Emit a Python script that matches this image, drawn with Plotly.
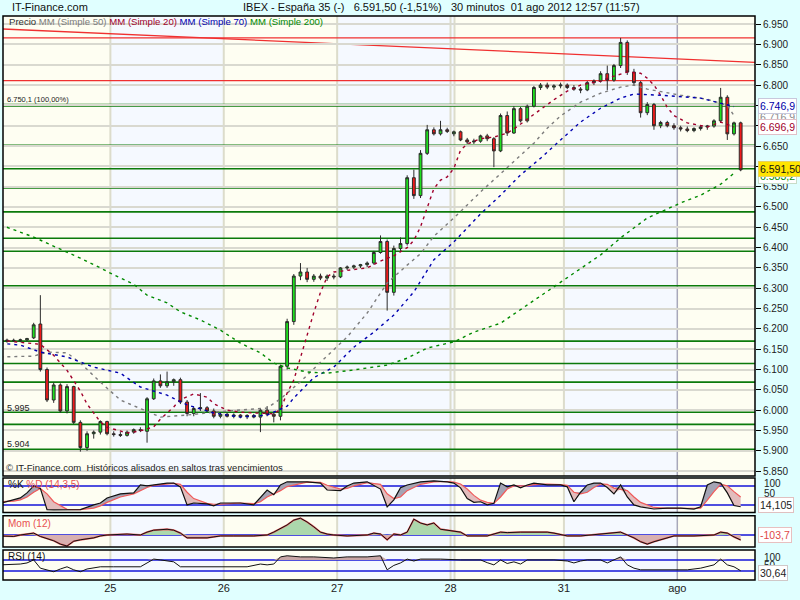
import plotly.graph_objects as go

# ---------------- data ----------------
# 30-minute bars, index 1 = first visible bar of 24 Jul 2012
opens = [6170, 6172, 6171, 6173, 6178, 6212, 6100, 6025, 6062, 5998, 6058, 5970, 5908, 5942, 5946, 5972,
         5942, 5940, 5938, 5946, 5952, 5948, 6028, 6072, 6060, 6070, 6075, 6020, 5992, 6004, 6006, 5998, 5985,
         5990, 5985, 5988, 5984, 5987, 5983, 6000, 5990, 5985, 6108, 6218, 6330, 6340, 6322, 6330, 6325, 6330,
         6328, 6350, 6352, 6355, 6358, 6362, 6388, 6415, 6290, 6398, 6410, 6572, 6528, 6632, 6690, 6680, 6690,
         6680, 6685, 6665, 6660, 6662, 6675, 6668, 6638, 6725, 6682, 6742, 6712, 6748, 6794, 6800, 6795, 6798,
         6800, 6794, 6790, 6788, 6806, 6810, 6828, 6812, 6848, 6905, 6832, 6806, 6732, 6752, 6700, 6708, 6700,
         6695, 6692, 6688, 6693, 6697, 6699, 6712, 6770, 6680, 6707]
highs = [6176, 6176, 6176, 6178, 6215, 6283, 6105, 6068, 6066, 6064, 6060, 5975, 5948, 5950, 5975, 5974,
         5948, 5946, 5950, 5955, 5958, 6032, 6078, 6088, 6095, 6078, 6080, 6025, 6008, 6042, 6010, 6004, 5995,
         5994, 5992, 5990, 5990, 5991, 6004, 6010, 5995, 6112, 6225, 6335, 6362, 6350, 6335, 6336, 6334, 6336,
         6352, 6356, 6358, 6360, 6366, 6392, 6430, 6420, 6405, 6425, 6578, 6592, 6640, 6702, 6696, 6712, 6695,
         6688, 6688, 6670, 6668, 6678, 6680, 6672, 6730, 6735, 6748, 6746, 6752, 6798, 6805, 6806, 6802, 6806,
         6804, 6800, 6795, 6810, 6814, 6834, 6848, 6852, 6916, 6910, 6840, 6810, 6758, 6756, 6712, 6712, 6706,
         6700, 6698, 6696, 6700, 6702, 6716, 6793, 6775, 6710, 6710]
lows = [6166, 6168, 6167, 6169, 6175, 6095, 6020, 6018, 5994, 5992, 5966, 5898, 5900, 5930, 5940, 5938,
        5935, 5934, 5935, 5942, 5946, 5920, 6025, 6055, 6055, 6060, 6015, 5985, 5985, 5998, 5995, 5980, 5980,
        5982, 5980, 5980, 5978, 5980, 5946, 5985, 5970, 5975, 6100, 6210, 6320, 6315, 6316, 6320, 6318, 6322,
        6325, 6345, 6347, 6350, 6352, 6358, 6385, 6245, 6282, 6392, 6405, 6520, 6522, 6628, 6676, 6676, 6682,
        6674, 6662, 6655, 6655, 6658, 6662, 6598, 6635, 6675, 6680, 6708, 6708, 6745, 6788, 6790, 6788, 6792,
        6790, 6786, 6780, 6785, 6800, 6806, 6788, 6808, 6842, 6825, 6800, 6720, 6726, 6690, 6694, 6696, 6690,
        6686, 6684, 6684, 6688, 6690, 6695, 6708, 6665, 6676, 6588]
closes = [6172, 6171, 6173, 6176, 6210, 6100, 6025, 6062, 5998, 6058, 5970, 5908, 5942, 5946, 5972, 5942,
          5940, 5938, 5946, 5952, 5950, 6028, 6072, 6060, 6070, 6075, 6020, 5992, 6004, 6006, 5998, 5985, 5990,
          5985, 5988, 5984, 5987, 5983, 6000, 5990, 5985, 6108, 6218, 6330, 6340, 6322, 6330, 6325, 6330, 6328,
          6350, 6352, 6355, 6358, 6362, 6388, 6415, 6290, 6398, 6410, 6572, 6528, 6632, 6690, 6680, 6690, 6686,
          6685, 6665, 6660, 6662, 6675, 6668, 6638, 6725, 6682, 6742, 6712, 6748, 6794, 6800, 6795, 6798, 6800,
          6794, 6790, 6788, 6806, 6810, 6828, 6812, 6848, 6905, 6832, 6806, 6732, 6752, 6700, 6708, 6700, 6695,
          6692, 6688, 6693, 6697, 6699, 6712, 6770, 6680, 6707, 6591.5]
bar_idx = list(range(1, len(closes) + 1))

# moving averages, read at sampled bar indices
ma20_x = [0, 6, 8, 10, 12, 13, 15, 16, 19, 21, 23, 24, 26, 27, 29, 31, 32, 34, 36, 39, 41, 42, 43, 44, 45, 46,
          47, 48, 49, 50, 53, 55, 57, 59, 61, 62, 63, 64, 65, 66, 67, 68, 69, 70, 72, 74, 76, 77, 79, 81, 83, 85,
          87, 90, 92, 94, 96, 97, 98, 99, 100, 101, 103, 106, 108, 110]
ma20_v = [6172, 6162, 6135, 6098, 6047, 6015, 5971, 5958, 5944, 5949, 5959, 5978, 6008, 6026, 6040, 6032, 6016,
          6000, 5995, 5993, 5991, 6002, 6042, 6074, 6130, 6185, 6240, 6290, 6328, 6340, 6345, 6350, 6367, 6380,
          6400, 6418, 6451, 6500, 6545, 6566, 6574, 6595, 6640, 6655, 6668, 6672, 6682, 6692, 6716, 6742, 6764,
          6785, 6800, 6810, 6822, 6832, 6829, 6817, 6800, 6775, 6745, 6725, 6707, 6697, 6709, 6697]
ma50_x = [0, 5, 7, 10, 12, 15, 18, 21, 24, 28, 32, 38, 40, 42, 45, 48, 52, 55, 58, 61, 63, 65, 68, 72, 76, 80,
          82, 84, 87, 90, 93, 95, 97, 102, 106, 109, 110]
ma50_v = [6131, 6133, 6143, 6141, 6116, 6069, 6025, 6005, 5983, 5988, 5995, 6003, 6005, 6028, 6070, 6118, 6180,
          6239, 6313, 6357, 6385, 6428, 6473, 6537, 6596, 6657, 6694, 6724, 6758, 6780, 6795, 6800, 6790, 6775,
          6765, 6750, 6725]
ma70_x = [0, 3, 6, 10, 14, 18, 21, 25, 28, 32, 36, 40, 43, 44, 47, 50, 53, 56, 59, 62, 65, 68, 72, 75, 78, 81,
          84, 87, 90, 93, 95, 99, 105, 110]
ma70_v = [6165, 6160, 6143, 6131, 6106, 6091, 6057, 6037, 6013, 5993, 5983, 5988, 6010, 6030, 6080, 6106, 6155,
          6192, 6234, 6291, 6370, 6414, 6483, 6529, 6579, 6620, 6665, 6709, 6743, 6768, 6778, 6775, 6768, 6747]
ma200_x = [0, 3, 5, 7, 10, 12, 15, 17, 20, 22, 25, 27, 30, 33, 36, 39, 41, 43, 46, 49, 53, 58, 61, 64, 68, 71,
           75, 79, 84, 90, 93, 97, 102, 105, 108, 110]
ma200_v = [6456, 6438, 6426, 6411, 6389, 6374, 6350, 6333, 6310, 6283, 6264, 6242, 6222, 6197, 6165, 6141, 6116,
           6104, 6094, 6091, 6099, 6111, 6128, 6153, 6168, 6192, 6214, 6259, 6315, 6382, 6424, 6473, 6510, 6529,
           6556, 6583]

green_levels = [6750.1, 6652, 6594, 6547, 6488, 6423, 6391, 6306, 6170, 6115, 6069, 5995, 5965, 5904]
red_levels = [6916, 6811]
red_trend = (6938, 6856)   # price at left edge / right edge

# stochastic %K / %D (14,3,5)
stoch_x = [0, 2, 3, 4, 5, 6, 7, 8, 10, 12, 14, 15, 16, 18, 20, 21, 22, 23, 25, 26, 27, 28, 29, 31, 32, 33, 35,
           36, 38, 39, 40, 41, 42, 43, 46, 48, 49, 51, 52, 53, 55, 57, 58, 59, 60, 61, 63, 65, 67, 68, 69, 70,
           71, 72, 73, 74, 75, 76, 77, 78, 79, 80, 82, 84, 85, 86, 87, 88, 89, 90, 91, 92, 93, 94, 95, 96, 98,
           100, 102, 104, 105, 106, 107, 108, 109, 110, 111]
stoch_k = [25, 36, 42, 58, 80, 72, 5, 4, 4, 5, 20, 26, 42, 55, 58, 83, 80, 83, 89, 89, 77, 20, 26, 23, 17, 26, 26,
           26, 20, 45, 67, 52, 83, 93, 93, 89, 67, 65, 80, 89, 93, 70, 14, 36, 74, 83, 93, 96, 93, 89, 74, 40, 28,
           30, 20, 25, 89, 77, 83, 74, 83, 89, 83, 83, 77, 30, 60, 83, 89, 89, 75, 55, 83, 45, 20, 14, 7, 10, 10,
           7, 14, 83, 93, 89, 58, 18, 14.1]
stoch_d = [30, 32, 36, 45, 60, 72, 55, 30, 6, 5, 10, 17, 28, 45, 55, 65, 75, 82, 86, 88, 85, 60, 40, 25, 22, 22,
           25, 26, 24, 30, 45, 55, 65, 78, 92, 91, 82, 70, 72, 80, 90, 85, 55, 40, 45, 65, 85, 93, 94, 92, 86, 70,
           50, 35, 28, 25, 45, 70, 80, 80, 80, 84, 86, 84, 82, 60, 55, 60, 75, 86, 85, 73, 70, 65, 45, 28, 12, 9,
           9, 9, 10, 35, 62, 85, 80, 62, 45]

# momentum (12)
mom_x = [0, 2, 3, 4, 5, 6, 7, 8, 9, 10, 11, 12, 14, 15, 16, 19, 21, 22, 23, 25, 26, 27, 28, 29, 31, 32, 33, 35,
         38, 40, 41, 43, 44, 45, 46, 47, 48, 49, 50, 52, 55, 56, 57, 58, 59, 60, 61, 62, 63, 64, 65, 66, 67, 69,
         70, 73, 75, 76, 78, 80, 82, 83, 85, 87, 90, 92, 93, 94, 95, 96, 97, 98, 100, 101, 104, 107, 108, 109,
         110, 111]
mom_v = [-20, -30, 0, 20, 40, -30, -80, -120, -190, -230, -130, -100, -60, -20, 0, 20, 0, 60, 100, 120, 100, 40,
         -60, -60, -60, -40, -20, -20, -20, 0, 60, 210, 310, 350, 270, 170, 60, 20, 0, -20, 0, 40, 20, -100, 20,
         0, 60, 330, 250, 210, 250, 120, 100, 60, -20, -20, 60, 50, 60, 60, 60, 40, -20, -20, 20, 40, 60, 0, -60,
         -140, -190, -140, -60, -20, -20, 0, 60, 40, -40, -103.7]

# RSI (14)
rsi_x = [0, 3, 4, 5, 6, 7, 8, 9, 10, 11, 12, 13, 14, 15, 17, 19, 21, 22, 23, 24, 25, 26, 27, 29, 31, 33, 35, 37,
         39, 40, 41, 42, 43, 45, 47, 50, 52, 55, 57, 58, 59, 60, 61, 62, 63, 65, 66, 69, 72, 73, 74, 75, 76, 77,
         78, 79, 81, 83, 85, 86, 87, 88, 90, 91, 92, 93, 94, 95, 96, 98, 100, 103, 105, 107, 108, 109, 110, 111]
rsi_v = [52, 55, 59, 70, 40, 34, 27, 37, 45, 34, 27, 37, 40, 45, 45, 45, 45, 59, 73, 70, 66, 63, 45, 45, 45, 45,
         45, 45, 55, 52, 55, 81, 85, 81, 81, 77, 81, 81, 85, 34, 50, 59, 73, 66, 73, 73, 73, 70, 70, 60, 52, 70,
         57, 63, 55, 70, 70, 70, 66, 59, 66, 70, 70, 59, 70, 81, 52, 40, 34, 34, 34, 34, 40, 52, 73, 52, 45, 30.64]

day_bounds = [16.5, 33.5, 50.5, 67.5, 84.5, 101.5]
day_labels = ["25", "26", "27", "28", "31", "ago"]
price_ticks = list(range(5850, 6951, 50))

# ---------------- layout helpers ----------------
W, H = 800, 600
ML, MR, MT, MB = 3, 45, 16, 20
PW, PH = W - ML - MR, H - MT - MB
FONT = "Liberation Sans, Arial, sans-serif"


def px(x):
    return (x - ML) / PW


def py(y):
    return (H - MB - y) / PH


fig = go.Figure()

# moving averages
for xs, vs, col in [(ma50_x, ma50_v, "#7c7c7c"), (ma20_x, ma20_v, "#a0002c"),
                    (ma70_x, ma70_v, "#0000b0"), (ma200_x, ma200_v, "#008a00")]:
    fig.add_trace(go.Scatter(x=xs, y=vs, mode="lines", yaxis="y", hoverinfo="skip", showlegend=False,
                             line=dict(color=col, width=1.4, dash="3px,4px")))

fig.add_trace(go.Candlestick(
    x=bar_idx, open=opens, high=highs, low=lows, close=closes, yaxis="y", whiskerwidth=0,
    increasing=dict(line=dict(color="#2b2b2b", width=1), fillcolor="#1ee01e"),
    decreasing=dict(line=dict(color="#2b2b2b", width=1), fillcolor="#f01a1a"),
    showlegend=False, hoverinfo="skip"))

# stochastic with two-colour fill
kmax = [max(k, d) for k, d in zip(stoch_k, stoch_d)]
kmin = [min(k, d) for k, d in zip(stoch_k, stoch_d)]
nol = dict(width=0)
fig.add_trace(go.Scatter(x=stoch_x, y=stoch_d, yaxis="y2", mode="lines", line=nol, showlegend=False, hoverinfo="skip"))
fig.add_trace(go.Scatter(x=stoch_x, y=kmax, yaxis="y2", mode="lines", line=nol, fill="tonexty",
                         fillcolor="#a4a4b4", showlegend=False, hoverinfo="skip"))
fig.add_trace(go.Scatter(x=stoch_x, y=stoch_d, yaxis="y2", mode="lines", line=nol, showlegend=False, hoverinfo="skip"))
fig.add_trace(go.Scatter(x=stoch_x, y=kmin, yaxis="y2", mode="lines", line=nol, fill="tonexty",
                         fillcolor="#e2bcbc", showlegend=False, hoverinfo="skip"))
fig.add_trace(go.Scatter(x=stoch_x, y=stoch_d, yaxis="y2", mode="lines", line=dict(color="#f05a5a", width=1.2),
                         showlegend=False, hoverinfo="skip"))
fig.add_trace(go.Scatter(x=stoch_x, y=stoch_k, yaxis="y2", mode="lines", line=dict(color="#111111", width=1.2),
                         showlegend=False, hoverinfo="skip"))

# momentum with fill to zero
zeros = [0] * len(mom_x)
fig.add_trace(go.Scatter(x=mom_x, y=zeros, yaxis="y3", mode="lines", line=nol, showlegend=False, hoverinfo="skip"))
fig.add_trace(go.Scatter(x=mom_x, y=[max(v, 0) for v in mom_v], yaxis="y3", mode="lines", line=nol,
                         fill="tonexty", fillcolor="#acd8ac", showlegend=False, hoverinfo="skip"))
fig.add_trace(go.Scatter(x=mom_x, y=zeros, yaxis="y3", mode="lines", line=nol, showlegend=False, hoverinfo="skip"))
fig.add_trace(go.Scatter(x=mom_x, y=[min(v, 0) for v in mom_v], yaxis="y3", mode="lines", line=nol,
                         fill="tonexty", fillcolor="#d8b0b0", showlegend=False, hoverinfo="skip"))
fig.add_trace(go.Scatter(x=mom_x, y=mom_v, yaxis="y3", mode="lines", line=dict(color="#e86060", width=1.8),
                         showlegend=False, hoverinfo="skip"))
fig.add_trace(go.Scatter(x=mom_x, y=mom_v, yaxis="y3", mode="lines", line=dict(color="#111111", width=1),
                         showlegend=False, hoverinfo="skip"))

# RSI with fill above 70
r70 = [70] * len(rsi_x)
fig.add_trace(go.Scatter(x=rsi_x, y=r70, yaxis="y4", mode="lines", line=nol, showlegend=False, hoverinfo="skip"))
fig.add_trace(go.Scatter(x=rsi_x, y=[max(v, 70) for v in rsi_v], yaxis="y4", mode="lines", line=nol,
                         fill="tonexty", fillcolor="#c8a6a6", showlegend=False, hoverinfo="skip"))
fig.add_trace(go.Scatter(x=rsi_x, y=rsi_v, yaxis="y4", mode="lines", line=dict(color="#111111", width=1),
                         showlegend=False, hoverinfo="skip"))

# ---------------- shapes ----------------
shapes = []
blue_bands = [(day_bounds[0], day_bounds[1]), (day_bounds[2], day_bounds[3] + 0.6), (day_bounds[4], day_bounds[5])]
for yr in ["y", "y2", "y3", "y4"]:
    for b0, b1 in blue_bands:
        shapes.append(dict(type="rect", xref="x", yref=f"{yr} domain", x0=b0, x1=b1, y0=0, y1=1,
                           fillcolor="#f5f9ff", line=dict(width=0), layer="below"))
    for xv in day_bounds[:5] + [day_bounds[3] + 0.6]:
        shapes.append(dict(type="line", xref="x", yref=f"{yr} domain", x0=xv, x1=xv, y0=0, y1=1,
                           line=dict(color="#dcdccb", width=2), layer="below"))
    shapes.append(dict(type="line", xref="x", yref=f"{yr} domain", x0=day_bounds[5], x1=day_bounds[5], y0=0, y1=1,
                       line=dict(color="#a8a8ba", width=1.5), layer="below"))

for i, lv in enumerate(green_levels):
    shapes.append(dict(type="line", xref="x domain", yref="y", x0=0, x1=1, y0=lv, y1=lv,
                       line=dict(color="#0b7a0b", width=3 if i == 0 else 1.6), layer="below"))
for lv in red_levels:
    shapes.append(dict(type="line", xref="x domain", yref="y", x0=0, x1=1, y0=lv, y1=lv,
                       line=dict(color="#f03030", width=1.3), layer="below"))
shapes.append(dict(type="line", xref="x domain", yref="y", x0=0, x1=1, y0=red_trend[0], y1=red_trend[1],
                   line=dict(color="#f03030", width=1.3), layer="below"))

for yr, lv in [("y2", 80), ("y2", 20), ("y3", 0), ("y4", 70), ("y4", 30)]:
    shapes.append(dict(type="line", xref="x domain", yref=yr, x0=0, x1=1, y0=lv, y1=lv,
                       line=dict(color="#1515d8", width=1.5), layer="below"))

for yr in ["y", "y2", "y3", "y4"]:
    shapes.append(dict(type="rect", xref="x domain", yref=f"{yr} domain", x0=0, x1=1, y0=0, y1=1,
                       line=dict(color="#000000", width=1.5), fillcolor="rgba(0,0,0,0)", layer="above"))

# ---------------- annotations ----------------
ann = []


def txt(x, y, s, size, color="#111111", **kw):
    d = dict(x=px(x), y=py(y), xref="paper", yref="paper", text=s, showarrow=False, xanchor="left",
             yanchor="middle", font=dict(family=FONT, size=size, color=color))
    d.update(kw)
    return d


NB = "\u00a0"
ann.append(txt(10, 7, "IT-Finance.com", 11))
ann.append(txt(241, 7, f"IBEX - España 35 (-){NB*3}6.591,50 (-1,51%){NB*3}30 minutos{NB*2}01 ago 2012 12:57 (11:57)", 11))
ann.append(txt(7, 22, "Precio <span style='color:#7c7c7c'>MM (Simple 50)</span> "
                      "<span style='color:#a0002c'>MM (Simple 20)</span> "
                      "<span style='color:#0000b0'>MM (Simple 70)</span> "
                      "<span style='color:#008a00'>MM (Simple 200)</span>", 9.6, "#333333"))
ann.append(txt(5, 99, "6.750,1 (100,00%)", 7.5, "#222222"))
ann.append(txt(5, 408, "5.995", 9, "#222222"))
ann.append(txt(5, 444, "5.904", 9, "#222222"))
ann.append(txt(4, 468, f"© IT-Finance.com{NB*2}Históricos alisados en saltos tras vencimientos", 9.5, "#222222"))
ann.append(txt(6, 484, "%K <span style='color:#e85050'>%D (14,3,5)</span>", 10, "#111111"))
ann.append(txt(6, 523, "Mom (12)", 10, "#e85050"))
ann.append(txt(6, 556, "RSI (14)", 10, "#111111"))

# sub-panel scale labels
for yy, s in [(483, "100"), (494, "50"), (557, "100"), (565, "50")]:
    ann.append(txt(762, yy, s, 10, "#222222"))


def box(y, s, color, bg="#ffffff", border="#d8c8c8"):
    return txt(758, y, s, 10.5, color, bgcolor=bg, bordercolor=border, borderwidth=1, borderpad=1)


ann.append(box(117, "6.716,9", "#8a8a8a", border="#d0d0d0"))
ann.append(box(106, "6.746,9", "#0000a8", border="#c8c8dc"))
ann.append(box(127, "6.696,9", "#a0002c", border="#e0c0c8"))
ann.append(box(176, "6.583,2", "#008a00", border="#c8dcc8"))
ann.append(box(169, "6.591,50", "#111111", bg="#ffe400", border="#e8d060"))
ann.append(box(505, "14,105", "#222222", border="#e0c0c0"))
ann.append(box(535, "-103,7", "#e04848", border="#e8c0c0"))
ann.append(box(573, "30,64", "#222222", border="#d0c8c8"))

tick_text = ["" if v in (6600, 6700, 6750) else f"{v // 1000}.{v % 1000:03d}" for v in price_ticks]

fig.update_layout(
    width=W, height=H, margin=dict(l=ML, r=MR, t=MT, b=MB, autoexpand=False),
    paper_bgcolor="#e0ffff", plot_bgcolor="#fefef2", boxgap=0.4,
    showlegend=False, shapes=shapes, annotations=ann,
    font=dict(family=FONT, size=11, color="#111111"),
    xaxis=dict(domain=[0, 1], range=[0.4, 113.15], anchor="y4", tickvals=day_bounds, ticktext=day_labels,
               showgrid=False, zeroline=False, ticks="", ticklen=0, tickfont=dict(size=11, color="#222222"),
               rangeslider=dict(visible=False), fixedrange=True, automargin=False),
    yaxis=dict(domain=[py(476), 1], range=[5838, 6970], side="right", anchor="x", tickvals=price_ticks,
               ticktext=tick_text, showgrid=True, gridcolor="#d9d9d0", gridwidth=1.5, zeroline=False,
               ticks="outside", ticklen=5, tickcolor="#000000", tickfont=dict(size=10, color="#222222"),
               fixedrange=True, automargin=False),
    yaxis2=dict(domain=[py(512.5), py(478)], range=[-4, 105], anchor="x", showticklabels=False,
                showgrid=False, zeroline=False, fixedrange=True),
    yaxis3=dict(domain=[py(547), py(515.7)], range=[-250, 402], anchor="x", showticklabels=False,
                showgrid=False, zeroline=False, fixedrange=True),
    yaxis4=dict(domain=[0, py(550)], range=[-3, 106], anchor="x", showticklabels=False,
                showgrid=False, zeroline=False, fixedrange=True),
)

fig.write_html("out.html", config={"displayModeBar": False},
               post_script="document.body.style.margin='0px';document.body.style.overflow='hidden';")
